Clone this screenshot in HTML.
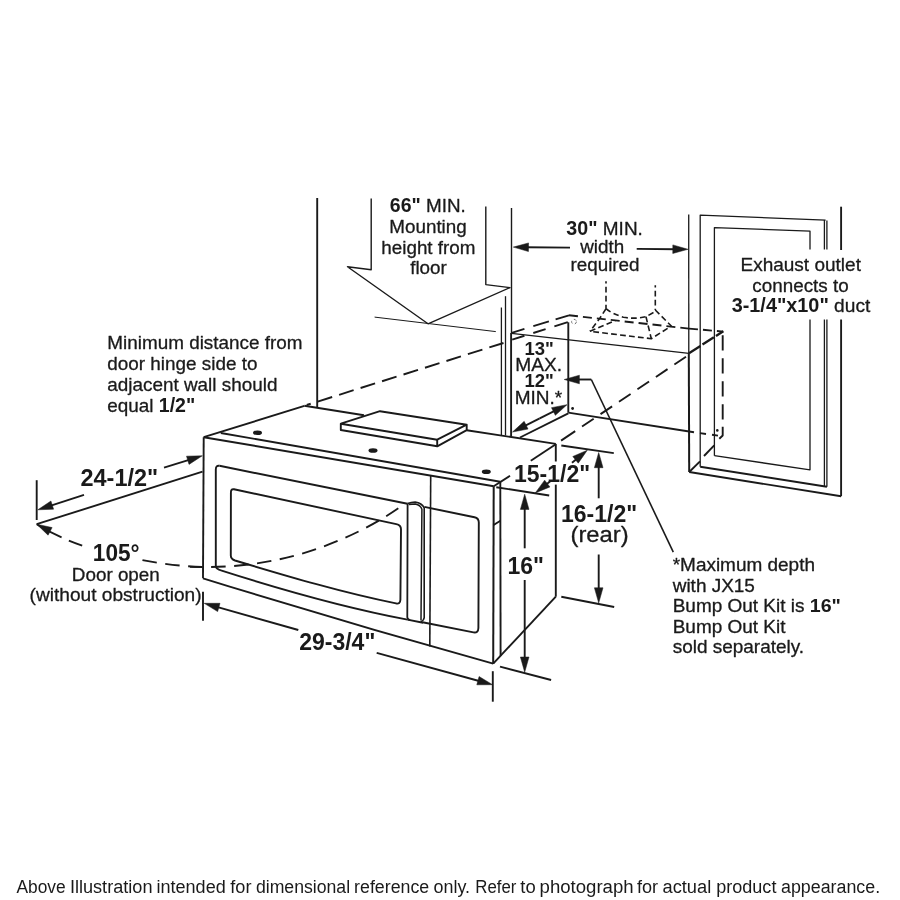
<!DOCTYPE html>
<html lang="en">
<head>
<meta charset="utf-8">
<title>Microwave installation dimensions</title>
<style>
html,body{margin:0;padding:0;background:#fff;}
body{width:900px;height:900px;overflow:hidden;position:relative;font-family:"Liberation Sans",sans-serif;}
svg{will-change:transform;display:block;position:absolute;left:0;top:0;}
svg text{font-family:"Liberation Sans",sans-serif;fill:#1a1a1a;stroke:#1a1a1a;stroke-width:0.3px;stroke-linejoin:round;white-space:pre;}
</style>
</head>
<body>
<svg width="900" height="900" viewBox="0 0 900 900" stroke="#1a1a1a" fill="none">
<rect x="0" y="0" width="900" height="900" fill="#ffffff" stroke="none"/>
<line x1="317.2" y1="198" x2="317.2" y2="407.6" stroke-width="1.9"/>
<line x1="511.5" y1="208" x2="511.5" y2="333" stroke-width="1.4"/>
<line x1="511.1" y1="333" x2="511.1" y2="436.5" stroke-width="1.9"/>
<line x1="501.4" y1="307.5" x2="501.4" y2="435" stroke-width="1.3"/>
<line x1="505.5" y1="296.2" x2="505.5" y2="435.5" stroke-width="1.3"/>
<path d="M371.2 198.4 L371.2 269.7 L347.5 266.7 L428 323.8 L510 287.6 L485.8 284.6 L485.8 206.5" stroke-width="1.4" fill="none" stroke-linejoin="round"/>
<line x1="374.6" y1="317.1" x2="495.8" y2="331.6" stroke-width="1.0"/>
<line x1="306.7" y1="405" x2="503.5" y2="343" stroke-width="1.9" stroke-dasharray="15.2 7.3" stroke-dashoffset="11"/>
<line x1="511.7" y1="332.8" x2="569" y2="315.3" stroke-width="1.9" stroke-dasharray="13.3 9.3 16.3 7 14 50"/>
<line x1="512.2" y1="339.6" x2="567.8" y2="322.2" stroke-width="1.9" stroke-dasharray="12.8 9.3 12.9 9.2 14.5 50"/>
<circle cx="574" cy="321.7" r="2.4" stroke-width="0.9" stroke-dasharray="2.6 2.4" stroke="#666"/>
<line x1="511.5" y1="333.3" x2="689" y2="353.3" stroke-width="1.3"/>
<line x1="568.3" y1="322.3" x2="568.3" y2="412.6" stroke-width="1.9"/>
<line x1="568.3" y1="412.6" x2="694" y2="432.2" stroke-width="1.9"/>
<line x1="700" y1="433.1" x2="706" y2="434" stroke-width="1.9"/>
<line x1="712" y1="434.8" x2="718" y2="435.6" stroke-width="1.9"/>
<line x1="569" y1="315.3" x2="689" y2="328.6" stroke-width="1.9" stroke-dasharray="9 5"/>
<line x1="689" y1="328.6" x2="723.3" y2="331.6" stroke-width="1.9" stroke-dasharray="9 5"/>
<line x1="722.7" y1="335.3" x2="722.7" y2="419.5" stroke-width="1.9" stroke-dasharray="15.3 7.7"/>
<path d="M722.7 426.7 L722.7 435.5 L719.3 438.8" stroke-width="1.9" fill="none" stroke-linejoin="round"/>
<line x1="689" y1="353.2" x2="723.3" y2="331.3" stroke-width="2.3" stroke-dasharray="13.5 2.5"/>
<line x1="686" y1="356.7" x2="561" y2="440.7" stroke-width="1.9" stroke-dasharray="14 8.25 14 8.25 14 8.25 14 8.25 14 8.25 14 8.25 17 50"/>
<ellipse cx="572.6" cy="408.5" rx="1.4" ry="1.4" fill="#1a1a1a" stroke="none"/>
<ellipse cx="717.3" cy="430.4" rx="1.3" ry="1.3" fill="#1a1a1a" stroke="none"/>
<line x1="606" y1="281.3" x2="606" y2="308.7" stroke-width="1.6" stroke-dasharray="5.8 3.2" stroke-dashoffset="3.5"/>
<line x1="655.3" y1="285.3" x2="655.3" y2="310" stroke-width="1.6" stroke-dasharray="5.8 3.2" stroke-dashoffset="3.5"/>
<path d="M606 308.7 L600 318 L590 331.3" stroke-width="1.6" fill="none" stroke-linejoin="round" stroke-dasharray="5.8 3.2"/>
<path d="M606 308.7 Q611.3 313.3 623.3 317.3 Q636 319.3 646 316.7 L655.3 311.5" stroke-width="1.6" fill="none" stroke-linejoin="round" stroke-dasharray="5.8 3.2"/>
<path d="M655.3 310 L666 320.7 L671.3 326 L651.3 338.7 L590 331.3" stroke-width="1.6" fill="none" stroke-linejoin="round" stroke-dasharray="5.8 3.2"/>
<path d="M590 331.3 L615.3 320.5" stroke-width="1.6" fill="none" stroke-linejoin="round" stroke-dasharray="5.8 3.2"/>
<path d="M646 316.7 L651.3 338.7" stroke-width="1.6" fill="none" stroke-linejoin="round" stroke-dasharray="5.8 3.2"/>
<line x1="520" y1="437.5" x2="568.3" y2="413.3" stroke-width="1.9"/>
<line x1="539.7" y1="418.4" x2="523.38" y2="426.56" stroke-width="1.9"/>
<polygon points="512.50,432.00 524.17,421.36 528.02,429.05" fill="#1a1a1a" stroke="#1a1a1a" stroke-width="0.5" stroke-linejoin="miter"/>
<line x1="539.7" y1="418.4" x2="556.13" y2="410.15" stroke-width="1.9"/>
<polygon points="567.00,404.70 555.34,415.36 551.49,407.67" fill="#1a1a1a" stroke="#1a1a1a" stroke-width="0.5" stroke-linejoin="miter"/>
<line x1="688.7" y1="214.4" x2="688.8" y2="353.3" stroke-width="1.3"/>
<line x1="688.8" y1="353.3" x2="689.2" y2="472" stroke-width="2.0"/>
<line x1="841.1" y1="206.7" x2="841.1" y2="250" stroke-width="1.9"/>
<line x1="841.1" y1="319.5" x2="841.1" y2="496.2" stroke-width="1.9"/>
<line x1="689.2" y1="472" x2="841.1" y2="496.2" stroke-width="1.9"/>
<line x1="689.2" y1="472" x2="700" y2="461.3" stroke-width="1.9"/>
<line x1="704" y1="456" x2="714.2" y2="445.3" stroke-width="1.9"/>
<path d="M700.2 466.7 L700.2 215.1 L825.6 220.2" stroke-width="1.3" fill="none" stroke-linejoin="round"/>
<line x1="824.4" y1="220" x2="824.4" y2="249.5" stroke-width="1.3"/>
<line x1="826.9" y1="220.4" x2="826.9" y2="249.5" stroke-width="1.3"/>
<line x1="824.4" y1="319.5" x2="824.4" y2="486.5" stroke-width="1.3"/>
<line x1="826.9" y1="319.5" x2="826.9" y2="486.8" stroke-width="1.3"/>
<line x1="700.2" y1="466.7" x2="826.9" y2="486.8" stroke-width="1.9"/>
<path d="M714.4 455.7 L714.4 227.7 L810 231.1 L810 249.5" stroke-width="1.3" fill="none" stroke-linejoin="round"/>
<path d="M810 319.5 L810 469.8 L714.4 455.7" stroke-width="1.3" fill="none" stroke-linejoin="round"/>
<line x1="570" y1="247.6" x2="525.46" y2="247.21" stroke-width="1.9"/>
<polygon points="513.30,247.10 528.54,242.93 528.46,251.53" fill="#1a1a1a" stroke="#1a1a1a" stroke-width="0.5" stroke-linejoin="miter"/>
<line x1="636.7" y1="248.9" x2="675.84" y2="249.21" stroke-width="1.9"/>
<polygon points="688.00,249.30 672.77,253.48 672.83,244.88" fill="#1a1a1a" stroke="#1a1a1a" stroke-width="0.5" stroke-linejoin="miter"/>
<line x1="203.7" y1="437.2" x2="304.4" y2="405.8" stroke-width="1.9"/>
<line x1="304.4" y1="405.8" x2="364" y2="415.2" stroke-width="1.9"/>
<line x1="466.7" y1="430.2" x2="555.8" y2="443.9" stroke-width="1.9"/>
<line x1="203.7" y1="437.2" x2="493.7" y2="486.3" stroke-width="1.9"/>
<line x1="220.8" y1="433" x2="500.3" y2="481.8" stroke-width="1.9"/>
<line x1="203.7" y1="437.2" x2="203" y2="578.3" stroke-width="1.9"/>
<path d="M203 578.3 Q348.1 623.4 493.2 663.7" stroke-width="1.9" fill="none" stroke-linejoin="round"/>
<line x1="493.7" y1="486.3" x2="493.2" y2="663.7" stroke-width="2.0"/>
<line x1="500.3" y1="481.8" x2="500.6" y2="655.8" stroke-width="1.9"/>
<line x1="493.6" y1="525" x2="500.4" y2="520.8" stroke-width="1.9"/>
<line x1="493.7" y1="486.3" x2="510" y2="475.8" stroke-width="1.9"/>
<line x1="530.8" y1="460.8" x2="555.8" y2="444.2" stroke-width="1.9"/>
<line x1="555.8" y1="443.9" x2="555.8" y2="461.5" stroke-width="1.9"/>
<line x1="555.8" y1="484.6" x2="555.8" y2="596.7" stroke-width="1.9"/>
<line x1="555.8" y1="596.7" x2="493.2" y2="663.7" stroke-width="1.9"/>
<path d="M219.5 465.8 L407.5 503.8" stroke-width="1.9" fill="none" stroke-linejoin="round"/>
<path d="M219.5 465.8 Q215.8 465.2 215.8 469.5 L215.8 565.5 Q215.8 569.3 221.7 570.6 C283.6 590.4 345.6 607.9 407.5 619.6" stroke-width="1.9" fill="none" stroke-linejoin="round"/>
<path d="M234 489.3 L396.3 524.1 Q401 525.1 401 529.2 L400.4 599.7 Q400.2 604.4 396 603.4 C342.3 592.6 288.7 576.6 235 560.5 Q230.8 559 230.8 555.5 L230.9 492.5 Q230.9 488.6 234 489.3 Z" stroke-width="1.9" fill="none" stroke-linejoin="round"/>
<path d="M407.6 503.5 L407.3 617.3 Q407.6 619.3 410 620.2" stroke-width="1.8" fill="none" stroke-linejoin="round"/>
<path d="M407.6 503.5 Q411 502.2 415.2 502.1 Q421.8 502.8 424.2 507.8 L424.2 617.5 Q424 620.2 420.8 621.9" stroke-width="1.6" fill="none" stroke-linejoin="round"/>
<path d="M408.8 504.5 L415.3 503.9 Q420.6 504.9 421.9 509.2 L421 620.5" stroke-width="1.5" fill="none" stroke-linejoin="round"/>
<line x1="407.5" y1="619.6" x2="423" y2="622.7" stroke-width="1.9"/>
<line x1="430.7" y1="475.8" x2="429.8" y2="646.6" stroke-width="1.6"/>
<path d="M424.4 506.9 L474.5 517.2 Q478.8 518.1 478.8 522.5 L478.4 628 Q478.2 633.3 473.5 632.4 L422.5 622.3" stroke-width="1.9" fill="none" stroke-linejoin="round"/>
<path d="M340.8 423.7 L380 411.2 L466.7 424.7 L437.2 439.7 L340.8 423.7 L340.8 430 L437.2 446.3 L466.7 430.2 L466.7 424.7" stroke-width="1.9" fill="none" stroke-linejoin="round"/>
<line x1="437.2" y1="439.7" x2="437.2" y2="446.3" stroke-width="1.9"/>
<ellipse cx="257.5" cy="432.7" rx="4.5" ry="2.3" fill="#1a1a1a" stroke="none"/>
<ellipse cx="373" cy="450.5" rx="4.5" ry="2.3" fill="#1a1a1a" stroke="none"/>
<ellipse cx="486.3" cy="471.7" rx="4.5" ry="2.3" fill="#1a1a1a" stroke="none"/>
<line x1="36.7" y1="480.2" x2="36.7" y2="520" stroke-width="1.9"/>
<line x1="36.7" y1="524.2" x2="202.5" y2="471.7" stroke-width="1.9"/>
<line x1="84" y1="494.8" x2="49.37" y2="506.04" stroke-width="1.9"/>
<polygon points="37.80,509.80 50.93,501.02 53.58,509.20" fill="#1a1a1a" stroke="#1a1a1a" stroke-width="0.5" stroke-linejoin="miter"/>
<line x1="164" y1="467.6" x2="190.68" y2="459.38" stroke-width="1.9"/>
<polygon points="202.30,455.80 189.04,464.38 186.51,456.17" fill="#1a1a1a" stroke="#1a1a1a" stroke-width="0.5" stroke-linejoin="miter"/>
<path d="M36.7 524.2 Q57 537 82.2 545.6" stroke-width="1.9" fill="none" stroke-linejoin="round" stroke-dasharray="28.3 8 14.5 100"/>
<polygon points="36.70,524.20 52.13,527.57 48.08,535.16" fill="#1a1a1a" stroke="#1a1a1a" stroke-width="0.5" stroke-linejoin="miter"/>
<line x1="190" y1="566.9" x2="202.5" y2="567.1" stroke-width="1.9"/>
<path d="M398.3 508.3 Q355 538 300 554.2 Q250 568 202 566.9 Q172 566 142 560" stroke-width="1.9" fill="none" stroke-linejoin="round" stroke-dasharray="14.5 8.55"/>
<line x1="203" y1="591.7" x2="203" y2="620.8" stroke-width="1.9"/>
<line x1="298.3" y1="630" x2="215.9" y2="606.62" stroke-width="1.9"/>
<polygon points="204.20,603.30 220.00,603.31 217.65,611.59" fill="#1a1a1a" stroke="#1a1a1a" stroke-width="0.5" stroke-linejoin="miter"/>
<line x1="376.7" y1="652.8" x2="480.88" y2="681.47" stroke-width="1.9"/>
<polygon points="492.60,684.70 476.80,684.81 479.09,676.52" fill="#1a1a1a" stroke="#1a1a1a" stroke-width="0.5" stroke-linejoin="miter"/>
<line x1="492.8" y1="671.2" x2="492.8" y2="701.7" stroke-width="1.9"/>
<line x1="496.3" y1="487.2" x2="549.2" y2="495.5" stroke-width="1.9"/>
<line x1="500" y1="666.7" x2="551.1" y2="680" stroke-width="1.9"/>
<line x1="524.7" y1="548.3" x2="524.7" y2="506.36" stroke-width="1.9"/>
<polygon points="524.70,494.20 529.00,509.40 520.40,509.40" fill="#1a1a1a" stroke="#1a1a1a" stroke-width="0.5" stroke-linejoin="miter"/>
<line x1="524.7" y1="580" x2="524.7" y2="660.04" stroke-width="1.9"/>
<polygon points="524.70,672.20 520.40,657.00 529.00,657.00" fill="#1a1a1a" stroke="#1a1a1a" stroke-width="0.5" stroke-linejoin="miter"/>
<line x1="572" y1="462.7" x2="577.88" y2="457.89" stroke-width="1.9"/>
<polygon points="587.30,450.20 578.25,463.15 572.81,456.49" fill="#1a1a1a" stroke="#1a1a1a" stroke-width="0.5" stroke-linejoin="miter"/>
<line x1="550.3" y1="481.2" x2="544.89" y2="485.42" stroke-width="1.9"/>
<polygon points="535.30,492.90 544.64,480.16 549.93,486.94" fill="#1a1a1a" stroke="#1a1a1a" stroke-width="0.5" stroke-linejoin="miter"/>
<line x1="561.3" y1="445.5" x2="613.8" y2="453.1" stroke-width="1.9"/>
<line x1="561.3" y1="596.7" x2="614.2" y2="607" stroke-width="1.9"/>
<line x1="598.7" y1="498.3" x2="598.7" y2="464.66" stroke-width="1.9"/>
<polygon points="598.70,452.50 603.00,467.70 594.40,467.70" fill="#1a1a1a" stroke="#1a1a1a" stroke-width="0.5" stroke-linejoin="miter"/>
<line x1="598.7" y1="554.5" x2="598.7" y2="590.84" stroke-width="1.9"/>
<polygon points="598.70,603.00 594.40,587.80 603.00,587.80" fill="#1a1a1a" stroke="#1a1a1a" stroke-width="0.5" stroke-linejoin="miter"/>
<line x1="591.3" y1="379.5" x2="576.36" y2="379.5" stroke-width="1.9"/>
<polygon points="564.20,379.50 579.40,375.20 579.40,383.80" fill="#1a1a1a" stroke="#1a1a1a" stroke-width="0.5" stroke-linejoin="miter"/>
<line x1="591.3" y1="379.5" x2="673.3" y2="552.2" stroke-width="1.6"/>
<text transform="translate(107.3 349.4) scale(1.0095 1)" font-size="18.72">Minimum distance from</text>
<text transform="translate(107.3 370.1) scale(1.0095 1)" font-size="18.72">door hinge side to</text>
<text transform="translate(107.3 390.9) scale(1.0095 1)" font-size="18.72">adjacent wall should</text>
<text transform="translate(107.3 412.2) scale(1.0095 1)" font-size="18.72">equal <tspan font-weight="bold" stroke="none" font-size="19.39">1/2"</tspan></text>
<text transform="translate(427.8 211.6) scale(1.0067 1)" font-size="18.72" text-anchor="middle"><tspan font-weight="bold" stroke="none" font-size="19.39">66"</tspan> MIN.</text>
<text transform="translate(428 232.6) scale(1.0067 1)" font-size="18.72" text-anchor="middle">Mounting</text>
<text transform="translate(428.4 253.6) scale(1.0067 1)" font-size="18.72" text-anchor="middle">height from</text>
<text transform="translate(428.5 273.7) scale(1.0067 1)" font-size="18.72" text-anchor="middle">floor</text>
<text transform="translate(604.6 235.1) scale(1.0145 1)" font-size="18.72" text-anchor="middle"><tspan font-weight="bold" stroke="none" font-size="19.39">30"</tspan> MIN.</text>
<text transform="translate(602.2 252.9) scale(1.0067 1)" font-size="18.72" text-anchor="middle">width</text>
<text transform="translate(605 270.6) scale(1.0067 1)" font-size="18.72" text-anchor="middle">required</text>
<text transform="translate(800.7 271) scale(1.0156 1)" font-size="18.72" text-anchor="middle">Exhaust outlet</text>
<text transform="translate(800.5 291.7) scale(1.0067 1)" font-size="18.72" text-anchor="middle">connects to</text>
<text transform="translate(801 311.9) scale(1.0231 1)" font-size="18.72" text-anchor="middle"><tspan font-weight="bold" stroke="none" font-size="19.39">3-1/4"x10"</tspan> duct</text>
<text transform="translate(539.1 354.7) scale(0.985 1)" font-size="18.8" text-anchor="middle"><tspan font-weight="bold" stroke="none">13"</tspan></text>
<text transform="translate(538.6 371.1) scale(1.0571 1)" font-size="18.14" text-anchor="middle">MAX.</text>
<text transform="translate(539.1 387) scale(0.985 1)" font-size="18.8" text-anchor="middle"><tspan font-weight="bold" stroke="none">12"</tspan></text>
<text transform="translate(538.5 403.6) scale(1.0488 1)" font-size="18.14" text-anchor="middle">MIN.*</text>
<text transform="translate(80.5 485.6) scale(1.02 1)" font-size="23"><tspan font-weight="bold" stroke="none">24-1/2"</tspan></text>
<text transform="translate(92.8 561) scale(0.985 1)" font-size="23"><tspan font-weight="bold" stroke="none">105°</tspan></text>
<text transform="translate(115.8 580.6) scale(1.0067 1)" font-size="18.72" text-anchor="middle">Door open</text>
<text transform="translate(115.6 600.6) scale(1.0212 1)" font-size="18.72" text-anchor="middle">(without obstruction)</text>
<text transform="translate(299.2 650) scale(1.0 1)" font-size="23"><tspan font-weight="bold" stroke="none">29-3/4"</tspan></text>
<text transform="translate(507.4 574) scale(1.0 1)" font-size="23"><tspan font-weight="bold" stroke="none">16"</tspan></text>
<text transform="translate(514 482) scale(1.0 1)" font-size="23"><tspan font-weight="bold" stroke="none">15-1/2"</tspan></text>
<text transform="translate(561 521.8) scale(1.0 1)" font-size="23"><tspan font-weight="bold" stroke="none">16-1/2"</tspan></text>
<text transform="translate(599.6 542.2) scale(1.084 1)" font-size="22" text-anchor="middle">(rear)</text>
<text transform="translate(672.7 570.9) scale(1.081 1)" font-size="17.56">*Maximum depth</text>
<text transform="translate(672.7 591.6) scale(1.081 1)" font-size="17.56">with JX15</text>
<text transform="translate(672.7 612.1) scale(1.081 1)" font-size="17.56">Bump Out Kit is <tspan font-weight="bold" stroke="none" font-size="18.19">16"</tspan></text>
<text transform="translate(672.7 632.6) scale(1.081 1)" font-size="17.56">Bump Out Kit</text>
<text transform="translate(672.7 653.4) scale(1.081 1)" font-size="17.56">sold separately.</text>
<text x="17.3" y="893.3" font-size="18" style="stroke:none"><tspan x="16.5" textLength="49.2" lengthAdjust="spacingAndGlyphs">Above</tspan> <tspan x="69.9" textLength="82.6" lengthAdjust="spacingAndGlyphs">Illustration</tspan> <tspan x="156.5" textLength="69.2" lengthAdjust="spacingAndGlyphs">intended</tspan> <tspan x="230.3" textLength="21.2" lengthAdjust="spacingAndGlyphs">for</tspan> <tspan x="255.9" textLength="94.2" lengthAdjust="spacingAndGlyphs">dimensional</tspan> <tspan x="354.1" textLength="75.1" lengthAdjust="spacingAndGlyphs">reference</tspan> <tspan x="433.6" textLength="36.5" lengthAdjust="spacingAndGlyphs">only.</tspan> <tspan x="475.3" textLength="41.1" lengthAdjust="spacingAndGlyphs">Refer</tspan> <tspan x="520.3" textLength="15.4" lengthAdjust="spacingAndGlyphs">to</tspan> <tspan x="539.6" textLength="94.0" lengthAdjust="spacingAndGlyphs">photograph</tspan> <tspan x="637.0" textLength="21.1" lengthAdjust="spacingAndGlyphs">for</tspan> <tspan x="662.5" textLength="48.7" lengthAdjust="spacingAndGlyphs">actual</tspan> <tspan x="716.3" textLength="60.1" lengthAdjust="spacingAndGlyphs">product</tspan> <tspan x="781.0" textLength="99.1" lengthAdjust="spacingAndGlyphs">appearance.</tspan></text>
</svg>
</body>
</html>
